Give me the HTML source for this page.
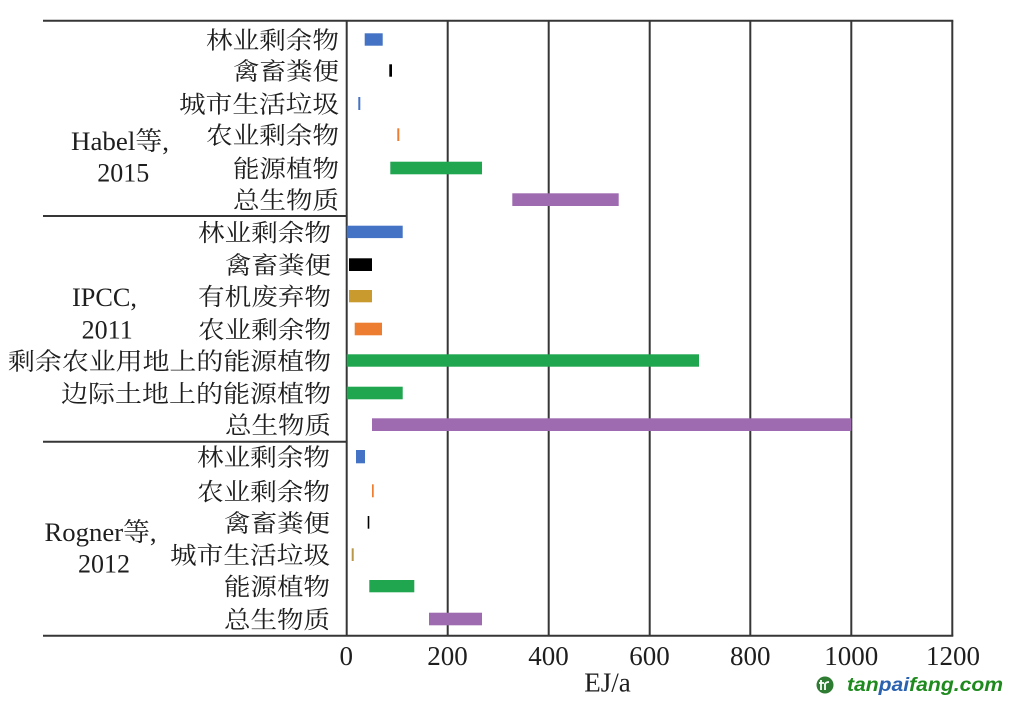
<!DOCTYPE html>
<html>
<head>
<meta charset="utf-8">
<style>
html,body{margin:0;padding:0;background:#fff;}
svg{display:block;}
.cj{font-family:"Liberation Serif","Noto Serif CJK SC",serif;font-size:24px;fill:#1e1e1e;}
.lt{font-family:"Liberation Serif","Noto Serif CJK SC",serif;font-size:26px;fill:#1e1e1e;}
.tk{font-family:"Liberation Serif",serif;font-size:27px;fill:#1e1e1e;}
</style>
</head>
<body>
<svg width="1015" height="705" viewBox="0 0 1015 705" xmlns="http://www.w3.org/2000/svg">
<rect x="0" y="0" width="1015" height="705" fill="#fff"/>

<!-- grid / frame lines -->
<g stroke="#363636" stroke-width="2" fill="none">
  <line x1="43" y1="20.7" x2="953.3" y2="20.7"/>
  <line x1="43" y1="635.7" x2="953.3" y2="635.7"/>
  <line x1="43" y1="216" x2="346.7" y2="216"/>
  <line x1="43" y1="441.7" x2="346.7" y2="441.7"/>
  <line x1="346.7" y1="20.7" x2="346.7" y2="635.7"/>
  <line x1="447.7" y1="20.7" x2="447.7" y2="635.7"/>
  <line x1="548.7" y1="20.7" x2="548.7" y2="635.7"/>
  <line x1="649.7" y1="20.7" x2="649.7" y2="635.7"/>
  <line x1="750.3" y1="20.7" x2="750.3" y2="635.7"/>
  <line x1="851.3" y1="20.7" x2="851.3" y2="635.7"/>
  <line x1="952.3" y1="20.7" x2="952.3" y2="635.7"/>
</g>

<!-- bars: Habel -->
<rect x="364.7" y="33.3" width="18" height="12.4" fill="#4472C4"/>
<rect x="389.3" y="64.3" width="2.7" height="12.4" fill="#000"/>
<rect x="358.3" y="97" width="2" height="13" fill="#4472C4"/>
<rect x="397.3" y="128.3" width="2" height="12.7" fill="#ED7D31"/>
<rect x="390.3" y="161.7" width="91.7" height="12.6" fill="#1FA64F"/>
<rect x="512.3" y="193.3" width="106.4" height="12.7" fill="#9E6BB0"/>

<!-- bars: IPCC -->
<rect x="346.7" y="225.7" width="56" height="12.4" fill="#4472C4"/>
<rect x="349" y="258.3" width="23" height="12.7" fill="#000"/>
<rect x="349" y="290" width="23" height="12.3" fill="#C99A2E"/>
<rect x="354.7" y="322.7" width="27.3" height="12.6" fill="#ED7D31"/>
<rect x="346.7" y="354.3" width="352.3" height="12.4" fill="#1FA64F"/>
<rect x="346.7" y="386.7" width="56" height="12.6" fill="#1FA64F"/>
<rect x="372" y="418.3" width="479.3" height="12.7" fill="#9E6BB0"/>

<!-- bars: Rogner -->
<rect x="356" y="450" width="9" height="13.3" fill="#4472C4"/>
<rect x="372" y="484.3" width="1.7" height="13" fill="#ED7D31"/>
<rect x="367.7" y="516" width="1.6" height="12.7" fill="#000"/>
<rect x="351.7" y="548.3" width="2" height="12.7" fill="#B8964A"/>
<rect x="369.3" y="580" width="45" height="12.3" fill="#1FA64F"/>
<rect x="429" y="612.7" width="53" height="12.6" fill="#9E6BB0"/>

<!-- category labels: Habel -->
<g class="cj" text-anchor="end">
  <text x="339" y="48.5" textLength="133" lengthAdjust="spacingAndGlyphs">林业剩余物</text>
  <text x="339" y="79.5" textLength="106" lengthAdjust="spacingAndGlyphs">禽畜粪便</text>
  <text x="339" y="112.5" textLength="160" lengthAdjust="spacingAndGlyphs">城市生活垃圾</text>
  <text x="339" y="143.7" textLength="133" lengthAdjust="spacingAndGlyphs">农业剩余物</text>
  <text x="339" y="177" textLength="106" lengthAdjust="spacingAndGlyphs">能源植物</text>
  <text x="339" y="208.7" textLength="106" lengthAdjust="spacingAndGlyphs">总生物质</text>
</g>
<!-- category labels: IPCC -->
<g class="cj" text-anchor="end">
  <text x="331" y="240.9" textLength="133" lengthAdjust="spacingAndGlyphs">林业剩余物</text>
  <text x="331" y="273.7" textLength="106" lengthAdjust="spacingAndGlyphs">禽畜粪便</text>
  <text x="331" y="305.2" textLength="133" lengthAdjust="spacingAndGlyphs">有机废弃物</text>
  <text x="331" y="338" textLength="133" lengthAdjust="spacingAndGlyphs">农业剩余物</text>
  <text x="331" y="369.5" textLength="323" lengthAdjust="spacingAndGlyphs">剩余农业用地上的能源植物</text>
  <text x="331" y="402" textLength="270" lengthAdjust="spacingAndGlyphs">边际土地上的能源植物</text>
  <text x="331" y="433.7" textLength="106" lengthAdjust="spacingAndGlyphs">总生物质</text>
</g>
<!-- category labels: Rogner -->
<g class="cj" text-anchor="end">
  <text x="330" y="465.7" textLength="133" lengthAdjust="spacingAndGlyphs">林业剩余物</text>
  <text x="330" y="499.8" textLength="133" lengthAdjust="spacingAndGlyphs">农业剩余物</text>
  <text x="330" y="531.4" textLength="106" lengthAdjust="spacingAndGlyphs">禽畜粪便</text>
  <text x="330" y="563.7" textLength="160" lengthAdjust="spacingAndGlyphs">城市生活垃圾</text>
  <text x="330" y="595.2" textLength="106" lengthAdjust="spacingAndGlyphs">能源植物</text>
  <text x="330" y="628" textLength="106" lengthAdjust="spacingAndGlyphs">总生物质</text>
</g>

<!-- group labels -->
<g class="lt">
  <text x="71" y="150" textLength="98" lengthAdjust="spacingAndGlyphs">Habel等,</text>
  <text x="123.3" y="181.7" text-anchor="middle">2015</text>
  <text x="72" y="306" textLength="65" lengthAdjust="spacingAndGlyphs">IPCC,</text>
  <text x="107.2" y="338.3" text-anchor="middle">2011</text>
  <text x="44.5" y="541" textLength="112" lengthAdjust="spacingAndGlyphs">Rogner等,</text>
  <text x="104" y="572.7" text-anchor="middle">2012</text>
</g>

<!-- tick labels -->
<g class="tk" text-anchor="middle">
  <text x="346.3" y="665">0</text>
  <text x="447.5" y="665">200</text>
  <text x="548.5" y="665">400</text>
  <text x="649.5" y="665">600</text>
  <text x="750.3" y="665">800</text>
  <text x="851.3" y="665">1000</text>
  <text x="953" y="665">1200</text>
  <text x="607.5" y="691.5">EJ/a</text>
</g>

<!-- watermark -->
<circle cx="825" cy="685" r="8.5" fill="#2E7D32"/>
<path d="M821 680 L821 690 M819 683 L824 683 M825 690 L825 684 Q826 682 829 682" stroke="#fff" stroke-width="1.8" fill="none"/>
<text x="847" y="691" font-family="Liberation Sans, sans-serif" font-size="19" font-weight="bold" font-style="italic" textLength="156" lengthAdjust="spacingAndGlyphs" fill="#1E8A1E"><tspan>tan</tspan><tspan fill="#2A62B0">pai</tspan><tspan>fang.com</tspan></text>
</svg>
</body>
</html>
